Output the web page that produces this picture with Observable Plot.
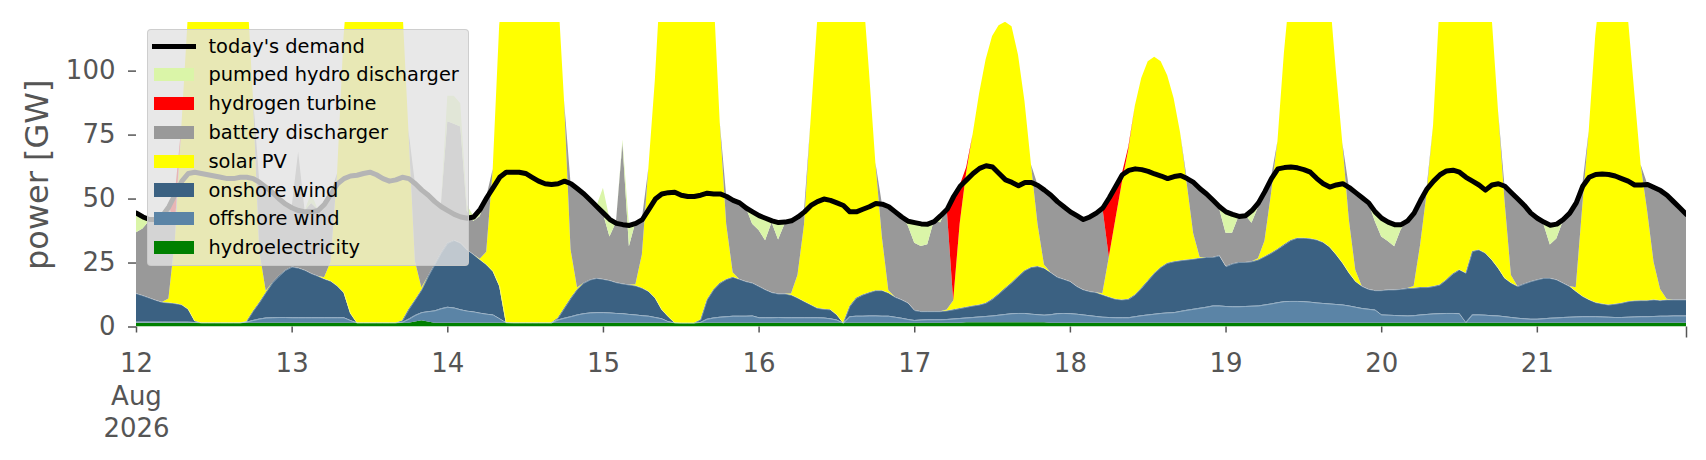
<!DOCTYPE html>
<html>
<head>
<meta charset="utf-8">
<script src="https://cdn.jsdelivr.net/npm/d3@7"></script>
<script src="https://cdn.jsdelivr.net/npm/@observablehq/plot@0.6"></script>
<style>
  html, body { margin: 0; padding: 0; background: #fff; }
  #wrap { position: relative; width: 1706px; height: 460px; font-family: "DejaVu Sans", sans-serif; }
  #legend { position: absolute; left: 146.5px; top: 29px; width: 322.5px; height: 236.5px;
            background: rgba(226,226,226,0.8); border: 1px solid rgba(200,200,200,0.8);
            border-radius: 4px; box-sizing: border-box; }
  .it { position: absolute; left: 0; height: 24px; display: flex; align-items: center; font-size: 19.4px; color: #000; white-space: nowrap; }
  .sw { position: absolute; left: 6.5px; width: 39.5px; height: 13.3px; top: 5.35px; }
  .ln { position: absolute; left: 4.5px; width: 43.5px; height: 5px; top: 9.5px; background: #000; }
  .tx { position: absolute; left: 61px; }
</style>
</head>
<body>
<div id="wrap"></div>
<script>
// ---- data (GW, hourly from 12 Aug 2026 00:00) ----
const techNames = ["hydroelectricity", "offshore wind", "onshore wind", "solar PV", "battery discharger", "hydrogen turbine", "pumped hydro discharger"];
const techColors = ["#008000", "#5b84a6", "#3b6182", "#ffff00", "#999999", "#ff0000", "#daf5a8"];
const dayTicks = [12, 13, 14, 15, 16, 17, 18, 19, 20, 21];
const tickLabels = ["12\nAug\n2026", "13", "14", "15", "16", "17", "18", "19", "20", "21"];

const demand = [
  44.5, 43, 42, 42, 43.5, 47, 52, 57, 60, 60.5, 60, 59.5, 59, 58.5, 58, 58, 58.5, 58.5, 58, 56.5, 54.5, 52.5, 50, 48,
  46.5, 45.5, 45, 45, 45.5, 48, 52, 56, 58, 59, 59.3, 60, 60.5, 59.5, 58, 57, 57.5, 58.5, 58, 56, 53.5, 51.5, 49, 47,
  45.5, 44, 43, 42.5, 43, 46, 50.5, 54.5, 58.5, 60.5, 60.5, 60.5, 60, 58.5, 57, 56, 55.7, 56, 57, 56, 54, 52, 49.5, 47,
  44.5, 42, 40.5, 40, 39.7, 40.5, 42, 46, 50, 52, 52.5, 52.7, 51.5, 51, 51, 51.5, 52.3, 52, 52, 51, 49.5, 48.5, 46.5, 45,
  43.5, 42.5, 41.5, 40.8, 41, 41.5, 43, 45, 47.5, 49, 50, 49.5, 48.5, 47.5, 45, 45, 46, 47, 48.3, 48, 47, 45, 43, 41.3,
  40.8, 40.3, 40.2, 41.2, 43.5, 46, 51, 55, 57.5, 60, 62, 63, 62.5, 60, 57.5, 56.5, 55.2, 56.5, 56.5, 55.3, 53.5, 51.5, 49, 47,
  45, 43.5, 42, 43, 44.5, 46.5, 50.5, 55, 59.5, 61.2, 61.8, 61.5, 60.8, 59.8, 59, 58, 58.8, 59.2, 58, 56.5, 54, 52, 49.5, 47,
  45, 44, 43.2, 43.5, 45.5, 48.5, 53, 58, 61.8, 62.3, 62.5, 62.2, 61.5, 60.5, 58, 56, 54.7, 55.5, 56, 54.5, 52.5, 50.5, 48.5, 45,
  42.5, 41, 40, 40, 41.5, 44.5, 49.5, 54, 57, 59.5, 61, 61.3, 60.5, 58.5, 57, 55.5, 53.5, 55.5, 56, 55, 52.5, 50, 47.5, 44.5,
  42.5, 41, 39.8, 40.2, 42, 44.5, 48.5, 55, 58.5, 59.6, 59.8, 59.6, 59, 58, 57, 55.5, 55.5, 55.7, 54.5, 53.3, 51.5, 49, 46.5, 44
];

const hydro = [
  1.5, 1.5, 1.5, 1.5, 1.5, 1.5, 1.5, 1.5, 1.5, 1.5, 1.5, 1.5, 1.5, 1.5, 1.5, 1.5, 1.5, 1.5, 1.5, 1.5, 1.5, 1.5, 1.5, 1.5,
  1.5, 1.5, 1.5, 1.5, 1.5, 1.5, 1.5, 1.5, 1.5, 1.5, 1.5, 1.5, 1.5, 1.5, 1.5, 1.5, 1.5, 1.5, 1.5, 2.0, 2.4, 2.0, 1.5, 1.5,
  1.5, 1.5, 1.5, 1.5, 1.5, 1.5, 1.5, 1.5, 1.5, 1.5, 1.5, 1.5, 1.5, 1.5, 1.5, 1.5, 1.5, 1.5, 1.5, 1.5, 1.5, 1.5, 1.5, 1.5,
  1.5, 1.5, 1.5, 1.5, 1.5, 1.5, 1.5, 1.5, 1.5, 1.5, 1.5, 1.5, 1.5, 1.5, 1.5, 1.5, 1.5, 1.5, 1.5, 1.5, 1.5, 1.5, 1.5, 1.5,
  1.5, 1.5, 1.5, 1.5, 1.5, 1.5, 1.5, 1.5, 1.5, 1.5, 1.5, 1.5, 1.5, 1.5, 1.5, 1.5, 1.5, 1.5, 1.5, 1.5, 1.5, 1.5, 1.5, 1.5,
  1.5, 1.5, 1.5, 1.5, 1.5, 1.5, 1.5, 1.5, 1.7, 1.7, 1.7, 1.7, 1.7, 1.7, 1.7, 1.7, 1.7, 1.7, 1.7, 1.7, 1.7, 1.5, 1.5, 1.5,
  1.5, 1.5, 1.5, 1.5, 1.5, 1.5, 1.5, 1.5, 1.5, 1.5, 1.5, 1.5, 1.5, 1.5, 1.5, 1.5, 1.5, 1.5, 1.5, 1.5, 1.5, 1.5, 1.5, 1.5,
  1.5, 1.5, 1.5, 1.5, 1.5, 1.5, 1.5, 1.5, 1.5, 1.5, 1.5, 1.5, 1.5, 1.5, 1.5, 1.5, 1.5, 1.5, 1.5, 1.5, 1.5, 1.5, 1.5, 1.5,
  1.5, 1.5, 1.5, 1.5, 1.5, 1.5, 1.5, 1.5, 1.5, 1.5, 1.5, 1.5, 1.5, 1.5, 1.5, 1.5, 1.5, 1.5, 1.5, 1.5, 1.5, 1.5, 1.5, 1.5,
  1.5, 1.5, 1.5, 1.5, 1.5, 1.5, 1.5, 1.5, 1.5, 1.5, 1.5, 1.5, 1.5, 1.5, 1.5, 1.5, 1.5, 1.5, 1.5, 1.5, 1.5, 1.5, 1.5, 1.5
];

const offshore = [
  0.4, 0.4, 0.4, 0.4, 0.4, 0.4, 0.4, 0.4, 0.4, 0.3, 0.1, 0.1, 0.1, 0.1, 0.1, 0.1, 0.1, 0.4, 1.0, 1.6, 2.0, 2.1, 2.2, 2.2,
  2.1, 2.1, 2.1, 2.1, 2.1, 2.1, 2.1, 2.1, 2.1, 1.0, 0.1, 0.1, 0.1, 0.1, 0.1, 0.1, 0.1, 0.3, 1.5, 2.5, 3.2, 4.0, 4.8, 5.6,
  6.2, 5.9, 5.2, 4.7, 4.4, 3.9, 3.5, 3.2, 1.7, 0.2, 0.1, 0.1, 0.1, 0.1, 0.1, 0.1, 0.1, 1.2, 1.9, 2.5, 3.2, 3.7, 4.0, 4.1,
  4.1, 4.0, 3.8, 3.7, 3.4, 3.2, 2.9, 2.7, 2.2, 1.7, 0.6, 0.1, 0, 0, 0, 0.3, 1.5, 2.0, 2.3, 2.5, 2.7, 2.7, 2.7, 2.8,
  2.1, 2.1, 2.1, 2.2, 2.1, 2.1, 2.1, 2.1, 2.1, 2.1, 2.0, 1.7, 1.2, 0, 2.5, 2.7, 2.7, 2.8, 2.8, 2.7, 2.7, 2.3, 1.9, 1.4,
  1.0, 1.2, 1.3, 1.3, 1.3, 1.4, 1.6, 1.8, 1.8, 2.0, 2.2, 2.4, 2.6, 2.9, 3.2, 3.5, 3.6, 3.6, 3.3, 3.1, 2.9, 3.3, 3.7, 3.8,
  3.7, 3.5, 3.2, 2.9, 2.6, 2.3, 2.2, 2.1, 2.1, 2.1, 2.5, 2.9, 3.2, 3.5, 3.8, 4.0, 4.1, 4.6, 5.0, 5.4, 5.8, 6.2, 6.7, 6.7,
  6.5, 6.4, 6.4, 6.5, 6.6, 6.7, 7.1, 7.5, 8.0, 8.4, 8.5, 8.5, 8.4, 8.2, 7.9, 7.7, 7.5, 7.3, 7.1, 6.7, 6.2, 5.7, 5.4, 5.1,
  3.2, 3.1, 3.0, 2.9, 2.8, 2.9, 3.2, 3.4, 3.6, 3.7, 3.8, 3.8, 3.7, 0.2, 3.2, 3.2, 3.1, 2.9, 2.8, 2.5, 2.2, 1.9, 1.7, 1.5,
  1.5, 1.7, 1.9, 2.0, 2.2, 2.3, 2.4, 2.5, 2.5, 2.5, 2.4, 2.3, 2.2, 2.2, 2.3, 2.4, 2.5, 2.5, 2.6, 2.7, 2.7, 2.8, 2.8, 2.8
];

const onshore = [
  11.1, 10.3, 9.4, 8.5, 7.7, 7.5, 7.2, 6.7, 4.9, 0.4, 0, 0, 0, 0, 0, 0, 0, 0.2, 3.6, 6.5, 10, 13.6, 16.1, 18.4,
  19.8, 19.4, 18.5, 17.2, 16.2, 15.1, 14.2, 12.3, 9.7, 2.8, 0, 0, 0, 0, 0, 0, 0, 0.5, 3.8, 6.1, 8.9, 13.7, 18, 21.8,
  25, 26.4, 26, 23.9, 22.3, 20.8, 19.2, 16.9, 12.6, 0, 0, 0, 0, 0, 0, 0, 0, 0.7, 3.9, 7.2, 10, 11.9, 12.9, 13.4,
  13, 12.6, 12, 11.6, 11.5, 11.3, 10.7, 9.6, 7.5, 3.5, 1.9, 0, 0, 0, 0, 0.9, 7.6, 11, 13.3, 14.6, 15.2, 14.4, 13.5, 12.8,
  12.2, 10.9, 9.8, 9.2, 9.3, 8.8, 7.6, 6.3, 5, 3.7, 3.4, 3.5, 2, 0, 4, 7, 8.3, 9.1, 9.9, 10, 9, 7.8, 7.2, 6.4,
  3.9, 3.3, 3.2, 3.2, 3.2, 3.4, 3.6, 3.9, 4.2, 4.5, 4.7, 5.2, 6.5, 8.3, 10.2, 12.1, 14.4, 16.7, 18.3, 18.8, 18.3, 16.4, 14.2, 13.3,
  12.5, 10.8, 9.8, 9.4, 9.3, 8.7, 7.9, 7.2, 7.0, 7.2, 8.5, 10.7, 13.4, 16.0, 18.0, 19.4, 19.9, 19.8, 19.7, 19.6, 19.6, 19.5, 19.0, 19.6,
  15.6, 16.7, 17.3, 17.2, 17.4, 18.0, 18.9, 19.8, 20.9, 22.2, 23.8, 24.7, 24.8, 24.8, 24.6, 23.8, 22.2, 19.4, 16.3, 12.8, 10.0, 8.6, 7.8, 7.6,
  9.5, 9.9, 10, 10.3, 10.7, 10.7, 10.7, 10.5, 10.7, 11.2, 13.1, 15.4, 17.1, 19.3, 24.8, 25.4, 24.2, 21.8, 18.6, 15.0, 13.4, 12.4, 13.6, 14.7,
  15.4, 15.8, 15.6, 14.9, 13.4, 12.0, 9.9, 7.9, 6.6, 5.5, 5.1, 4.8, 5.2, 5.6, 6.1, 6.3, 6.3, 6.3, 6.5, 6.1, 6.4, 6.3, 6.3, 6.3
];

const solar = [
  0, 0, 0, 0, 0, 1.5, 25, 70, 115, 150, 175, 190, 196, 196, 190, 175, 158, 135, 85, 20, 0.5, 0, 0, 0,
  0, 0, 0, 0, 0, 0.5, 7.5, 44, 100, 140, 168, 185, 192, 192, 186, 172, 150, 126, 70, 15, 0.7, 0, 0, 0,
  0, 0, 0, 0, 0, 0.3, 5, 40, 102, 140, 165, 180, 186, 186, 180, 168, 150, 130, 81, 19, 0.5, 0, 0, 0,
  0, 0, 0, 0, 0, 0.5, 13, 48, 85, 135, 162, 178, 184, 184, 178, 165, 145, 118, 63, 21.6, 1.8, 0, 0, 0,
  0, 0, 0, 0, 0, 0.5, 9, 30, 71.6, 111, 140, 155, 162, 162, 155, 140, 122, 87, 50, 21, 1, 0, 0, 0,
  0, 0, 0, 0, 0, 0.3, 3.5, 33, 52.5, 67, 82.6, 95, 102.7, 104.8, 104, 100, 86.5, 66, 40, 16.6, 1.3, 0, 0, 0,
  0, 0, 0, 0, 0, 0.5, 15.6, 31, 45.6, 58.4, 73.7, 82, 85.6, 84.4, 80.4, 73.3, 63.7, 49.8, 30, 10, 0.3, 0, 0, 0,
  0, 0, 0, 0, 0, 0.5, 6, 23, 42, 75, 100, 120, 130, 130, 122, 110, 100, 72, 47, 21, 4.5, 0, 0, 0,
  0, 0, 0, 0, 0, 0.7, 16.5, 36.8, 63, 110, 140, 160, 170, 168, 160, 145, 125, 96, 62, 30.7, 3, 0, 0, 0,
  0, 0, 0, 0, 0, 0, 1.5, 35, 66, 104, 128, 140, 145, 140, 112, 82, 53, 35, 14.6, 4.4, 0.2, 0, 0, 0
];

const battery = [
  23.8, 26.1, 30, 31.9, 34.2, 36.4, 6.2, 0, 0, 0, 0, 0, 0, 0, 0, 0, 0, 0, 0, 27.2, 40.8, 35.6, 30.5, 26.2,
  23.4, 45.3, 23.2, 27.5, 26, 29.1, 27, 0, 0, 0, 0, 0, 0, 0, 0, 0, 0, 0, 0, 30.6, 38.5, 32, 25, 18.4,
  47.5, 45.4, 45.5, 15.1, 13, 16.7, 21.5, 0, 0, 0, 0, 0, 0, 0, 0, 0, 0, 0, 0, 26, 39, 35.1, 31.3, 28.2,
  25.6, 17.1, 23.4, 55, 15, 24.2, 14.1, 0, 0, 0, 0, 0, 0, 0, 0, 0, 0, 0, 0, 11, 28.5, 30.1, 29, 23.1,
  21.9, 19.2, 27.3, 21.1, 27.3, 28.8, 23, 5.3, 0, 0, 0, 0, 0, 0, 0, 0, 0, 0, 0, 13, 33, 33.6, 32.6, 30.2,
  26.3, 25.5, 26.1, 35.2, 34.7, 39.6, 0, 0, 0, 0, 0, 0, 0, 0, 0, 0, 0, 0, 0, 15.3, 29.5, 30.5, 29.8, 28.6,
  27.5, 27.9, 27.7, 29.4, 31.3, 33.7, 0, 0, 0, 0, 0, 0, 0, 0, 0, 0, 0, 0, 2, 20.2, 27, 25, 22.5, 18.4,
  13, 12, 18, 18.5, 15, 20, 19.7, 6.4, 0, 0, 0, 0, 0, 0, 0, 0, 0, 0, 0, 12.7, 30.5, 34.9, 34, 27,
  21, 18.9, 16.9, 23.2, 26.7, 28.9, 17.8, 2, 0, 0, 0, 0, 0, 0, 0, 0, 0, 0, 0, 5.5, 32.6, 34.4, 30.9, 27,
  24.3, 21.2, 13, 16, 24.1, 28.9, 33.4, 8.3, 0, 0, 0, 0, 0, 0, 0, 0, 0, 10.6, 29.5, 38.8, 40.9, 38.6, 36.1, 33.6
];

const hydrogen = [
  0, 0, 0, 0, 0, 0, 12, 0, 0, 0, 0, 0, 0, 0, 0, 0, 0, 0, 0, 0, 0, 0, 0, 0,
  0, 0, 0, 0, 0, 0, 0, 0, 0, 0, 0, 0, 0, 0, 0, 0, 0, 0, 0, 0, 0, 0, 0, 0,
  0, 0, 0, 0, 0, 0, 0, 0, 0, 0, 0, 0, 0, 0, 0, 0, 0, 0, 0, 0, 0, 0, 0, 0,
  0, 0, 0, 0, 0, 0, 0, 0, 0, 0, 0, 0, 0, 0, 0, 0, 0, 0, 0, 0, 0, 0, 0, 0,
  0, 0, 0, 0, 0, 0, 0, 0, 0, 0, 0, 0, 0, 0, 0, 0, 0, 0, 0, 0, 0, 0, 0, 0,
  0, 0, 0, 0, 0, 0, 41, 15, 2, 0, 0, 0, 0, 0, 0, 0, 0, 0, 0, 0, 0, 0, 0, 0,
  0, 0, 0, 0, 0, 0, 23.5, 13.4, 3.5, 1, 0, 0, 0, 0, 0, 0, 0, 0, 0, 0, 0, 0, 0, 0,
  0, 0, 0, 0, 0, 0, 0, 0, 0, 0, 0, 0, 0, 0, 0, 0, 0, 0, 0, 0, 0, 0, 0, 0,
  0, 0, 0, 0, 0, 0, 0, 0, 0, 0, 0, 0, 0, 0, 0, 0, 0, 0, 0, 0, 0, 0, 0, 0,
  0, 0, 0, 0, 0, 0, 0, 0, 0, 0, 0, 0, 0, 0, 0, 0, 0, 0, 0, 0, 0, 0, 0, 0
];

const phs = [
  8, 5, 1, 0, 0, 0, 0, 0, 0, 0, 0, 0, 0, 0, 0, 0, 0, 0, 0, 0, 0, 0, 0, 0,
  0, 0, 0, 4, 0, 0, 0, 0, 0, 0, 0, 0, 0, 0, 0, 0, 0, 0, 0, 0, 0, 0, 0, 0,
  10, 11, 9, 2.5, 2, 3, 0, 0, 0, 0, 0, 0, 0, 0, 0, 0, 0, 0, 0, 0, 0, 0, 0, 0,
  10, 7, 0, 1.3, 8.5, 0, 0, 0, 0, 0, 0, 0, 0, 0, 0, 0, 0, 0, 0, 0, 0, 0, 0, 5,
  6, 9, 1, 7, 1, 0, 0, 0, 0, 0, 0, 0, 0, 0, 0, 0, 0, 0, 0, 0, 0, 0, 0, 2,
  8.3, 9, 8.3, 0.2, 3, 0, 0, 0, 0, 0, 0, 0, 0, 0, 0, 0, 0, 0, 0, 0, 0, 0, 0, 0,
  0, 0, 0, 0, 0, 0, 0, 0, 0, 0, 0, 0, 0, 0, 0, 0, 0, 0, 0, 0, 0, 0, 0, 1,
  8.6, 7.6, 0.2, 0, 5.2, 2, 0, 0, 0, 0, 0, 0, 0, 0, 0, 0, 0, 0, 0, 0, 0, 0, 0, 4,
  7.5, 7.8, 8.8, 2.3, 0, 0, 0, 0, 0, 0, 0, 0, 0, 0, 0, 0, 0, 0, 0, 0, 0, 0, 0, 0,
  0, 1, 8, 6, 1, 0, 0, 0, 0, 0, 0, 0, 0, 0, 0, 0, 0, 0, 0, 0, 0, 0, 0, 0
];

// ---- build table ----
const series = [hydro, offshore, onshore, solar, battery, hydrogen, phs];
[demand, ...series].forEach((s, k) => { if (s.length !== 240) throw new Error("series " + k + " has length " + s.length); });
const t0 = Date.UTC(2026, 7, 12);
const times = demand.map((_, i) => new Date(t0 + i * 3600e3));
const rows = [];
times.forEach((t, i) => series.forEach((s, j) => rows.push({time: t, tech: techNames[j], value: s[i]})));
const demandRows = times.map((t, i) => ({time: t, value: demand[i]}));
const tickDates = dayTicks.map(d => new Date(Date.UTC(2026, 7, d)));
const endDate = times[times.length - 1];

const chart = Plot.plot({
  width: 1706, height: 460,
  marginLeft: 136, marginRight: 20, marginTop: 22, marginBottom: 133.5,
  style: {fontFamily: "DejaVu Sans", background: "#ffffff", color: "#555555", overflow: "visible"},
  x: {type: "utc", domain: [times[0], endDate]},
  y: {domain: [0, 119]},
  color: {domain: techNames, range: techColors},
  marks: [
    Plot.areaY(rows, {x: "time", y: "value", z: "tech", fill: "tech", clip: true}),
    Plot.lineY(rows, Plot.filter(d => d.tech === "offshore wind" || d.tech === "onshore wind",
      Plot.stackY2({x: "time", y: "value", z: "tech", stroke: "#ffffff", strokeWidth: 0.7, strokeOpacity: 0.5, clip: true}))),
    Plot.lineY(demandRows, {x: "time", y: "value", stroke: "#000", strokeWidth: 5, strokeLinejoin: "round", clip: true}),
    Plot.axisX({ticks: tickDates, tickFormat: (d, i) => tickLabels[i], tickSize: 6, tickPadding: 16,
      fontSize: 26, lineHeight: 1.25, color: "#555555", strokeWidth: 1.5, label: null}),
    Plot.axisX({ticks: [endDate], tickFormat: () => "", tickSize: 11, strokeWidth: 1.5, color: "#555555", label: null}),
    Plot.axisY({ticks: [0, 25, 50, 75, 100], tickSize: 8, tickPadding: 13, fontSize: 26, color: "#555555", strokeWidth: 1.5, label: null}),
    Plot.text(["power [GW]"], {text: d => d, frameAnchor: "left", textAnchor: "middle", lineAnchor: "middle", dx: -99, rotate: -90, fontSize: 32, fill: "#555555"})
  ]
});

const wrap = document.getElementById("wrap");
wrap.appendChild(chart);

// ---- legend (overlay, drawn on top of plot like the original) ----
const legend = document.createElement("div");
legend.id = "legend";
const legendItems = [
  {label: "today's demand", color: "#000", line: true},
  {label: "pumped hydro discharger", color: techColors[6]},
  {label: "hydrogen turbine", color: techColors[5]},
  {label: "battery discharger", color: techColors[4]},
  {label: "solar PV", color: techColors[3]},
  {label: "onshore wind", color: techColors[2]},
  {label: "offshore wind", color: techColors[1]},
  {label: "hydroelectricity", color: techColors[0]}
];
legendItems.forEach((it, i) => {
  const row = document.createElement("div");
  row.className = "it";
  row.style.top = (16 + 28.8 * i - 12) + "px";
  const sw = document.createElement("span");
  sw.className = it.line ? "ln" : "sw";
  sw.style.background = it.color;
  const tx = document.createElement("span");
  tx.className = "tx";
  tx.textContent = it.label;
  row.appendChild(sw);
  row.appendChild(tx);
  legend.appendChild(row);
});
wrap.appendChild(legend);
</script>
</body>
</html>
